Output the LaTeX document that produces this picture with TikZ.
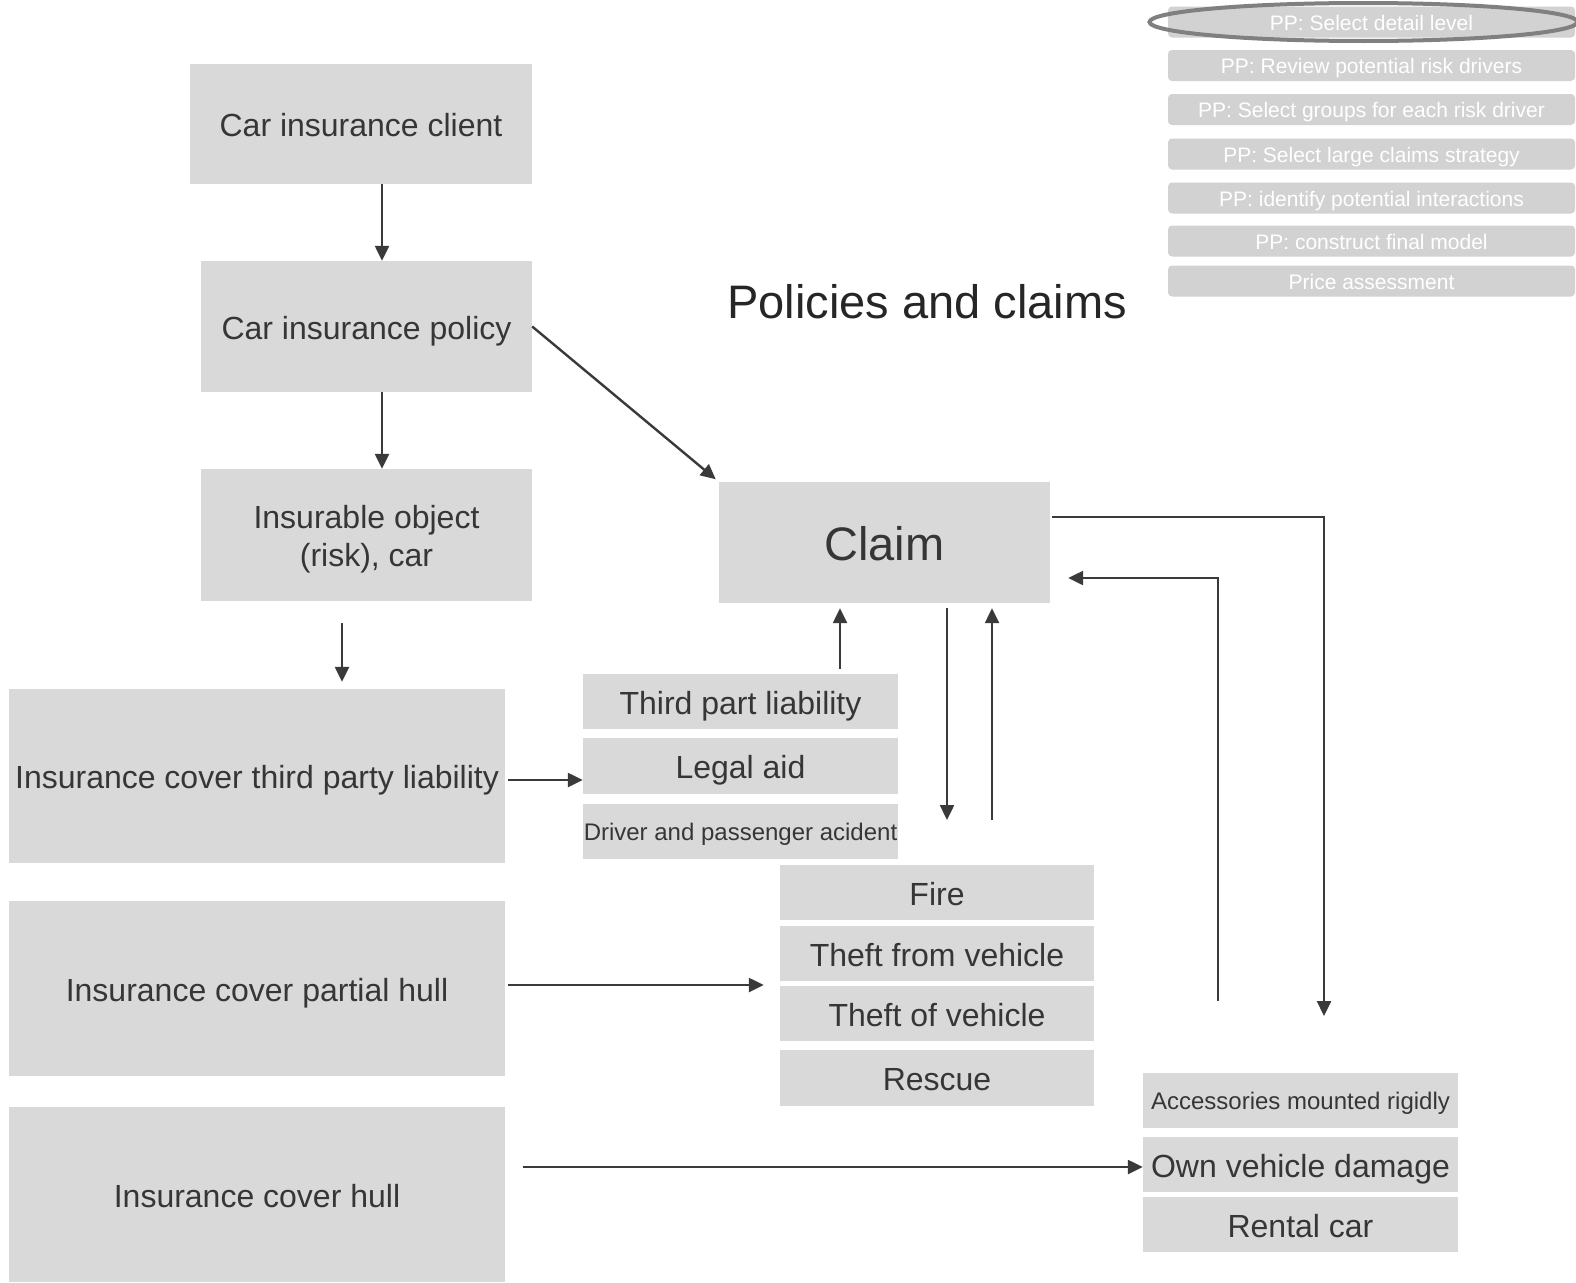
\documentclass[tikz,border=0pt]{standalone}
\usepackage{fontspec}
\setmainfont{Liberation Sans}
\usetikzlibrary{arrows.meta,calc}
\definecolor{boxgray}{HTML}{D9D9D9}
\definecolor{menugray}{HTML}{D2D2D2}
\definecolor{txt}{HTML}{363636}
\definecolor{arrc}{HTML}{3A3A3A}
\definecolor{ellc}{HTML}{808080}
\newcommand{\fsz}[2]{\fontsize{#1}{#2}\selectfont}
\tikzset{
  box/.style={fill=boxgray, draw=none, inner sep=0pt, text=txt, align=center, font=\fsz{32}{38},
     text height=25pt, text depth=0pt},
  smallbox/.style={box, font=\fsz{24}{29}, text height=18.7pt},
  menubox/.style={fill=menugray, draw=none, rounded corners=4pt, inner sep=0pt, text=white,
     minimum width=407pt, minimum height=31pt, font=\fsz{21}{25}, text height=16.4pt, text depth=0pt},
  arr/.style={draw=arrc, line width=2.4pt, -{Triangle[length=15pt,width=14pt]}},
  ln/.style={draw=arrc, line width=2.4pt}
}
\begin{document}
\begin{tikzpicture}[x=1pt,y=-1pt]
\useasboundingbox (0,0) rectangle (1576,1282);
\fill[white] (0,0) rectangle (1576,1282);

% main left column
\node[box, minimum width=342pt, minimum height=120pt] (client) at (361,124) {Car insurance client};
\node[box, minimum width=331pt, minimum height=131pt] (policy) at (366.5,326.5) {Car insurance policy};
\node[box, minimum width=331pt, minimum height=132pt, text height=63pt, text depth=0pt] (object) at (366.5,535) {Insurable object\\(risk), car};
\node[box, minimum width=496pt, minimum height=174pt] (ctpl) at (257,776) {Insurance cover third party liability};
\node[box, minimum width=496pt, minimum height=175pt] (cpart) at (257,988.5) {Insurance cover partial hull};
\node[box, minimum width=496pt, minimum height=175pt] (chull) at (257,1194.5) {Insurance cover hull};

% claim
\node[box, minimum width=331pt, minimum height=121pt, font=\fsz{47}{56}, text height=36.7pt] (claim) at (884.5,542.5) {Claim};
\node[text=black!85, font=\fsz{47}{56}] (title) at (927,302) {Policies and claims};

% third party group
\node[box, minimum width=315pt, minimum height=55pt] (tpl) at (740.5,701.5) {Third part liability};
\node[box, minimum width=315pt, minimum height=56pt] (legal) at (740.5,766) {Legal aid};
\node[smallbox, minimum width=315pt, minimum height=55pt] (driver) at (740.5,831.5) {Driver and passenger acident};

% partial hull group
\node[box, minimum width=314pt, minimum height=55pt] (fire) at (937,892.5) {Fire};
\node[box, minimum width=314pt, minimum height=55pt] (tfrom) at (937,953.5) {Theft from vehicle};
\node[box, minimum width=314pt, minimum height=55pt] (tof) at (937,1013.5) {Theft of vehicle};
\node[box, minimum width=314pt, minimum height=56pt] (rescue) at (937,1078) {Rescue};

% hull group
\node[smallbox, minimum width=315pt, minimum height=55pt] (acc) at (1300.5,1100.5) {Accessories mounted rigidly};
\node[box, minimum width=315pt, minimum height=55pt] (own) at (1300.5,1164.5) {Own vehicle damage};
\node[box, minimum width=315pt, minimum height=55pt] (rental) at (1300.5,1224.5) {Rental car};

% menu
\node[menubox] (m1) at (1371.5,22) {PP: Select detail level};
\node[menubox] (m2) at (1371.5,65.5) {PP: Review potential risk drivers};
\node[menubox] (m3) at (1371.5,109.5) {PP: Select groups for each risk driver};
\node[menubox] (m4) at (1371.5,154) {PP: Select large claims strategy};
\node[menubox] (m5) at (1371.5,198) {PP: identify potential interactions};
\node[menubox] (m6) at (1371.5,241) {PP: construct final model};
\node[menubox] (m7) at (1371.5,281) {Price assessment};
\draw[ellc, line width=4pt] ([xshift=-8pt]m1.center) ellipse [x radius=214, y radius=19];

% connectors
\draw[arr] ([xshift=21pt]client.south) -- ([xshift=21pt]client.south |- policy.north);
\draw[arr] ([xshift=15.5pt]policy.south) -- ([xshift=15.5pt]policy.south |- object.north);
\draw[arr, shorten <=22pt, shorten >=7pt] ([xshift=-24.5pt]object.south) -- ([xshift=-24.5pt]object.south |- ctpl.north);
\draw[arr, shorten >=4pt] (policy.east) -- (claim.north west);
\draw[arr, shorten <=3pt] ([yshift=-4pt]ctpl.east) -- ([yshift=-4pt]ctpl.east -| legal.west);
\draw[arr, shorten <=3pt, shorten >=16pt] ([yshift=3.5pt]cpart.east) -- ([yshift=3.5pt]cpart.east -| fire.west);
\draw[arr, shorten <=18pt] ([yshift=27.5pt]chull.east) -- ([yshift=27.5pt]chull.east -| own.west);
\draw[arr, shorten <=5pt, shorten >=5pt] ([xshift=99.5pt]tpl.north) -- ([xshift=99.5pt]tpl.north |- claim.south);

\coordinate (dn) at (947,820);
\coordinate (up) at (992,820);
\draw[arr, shorten <=5pt] (claim.south -| dn) -- (dn);
\draw[arr, shorten >=5pt] (up) -- (up |- claim.south);

\coordinate (rc) at (1324,517);
\coordinate (rend) at (1324,1016);
\draw[arr] ([xshift=2pt]claim.east |- rc) -- (rc) -- (rend);
\coordinate (lb) at (1218,1001);
\coordinate (lc) at (1218,578);
\draw[arr, shorten >=18pt] (lb) -- (lc) -- (lc -| claim.east);
\end{tikzpicture}
\end{document}
